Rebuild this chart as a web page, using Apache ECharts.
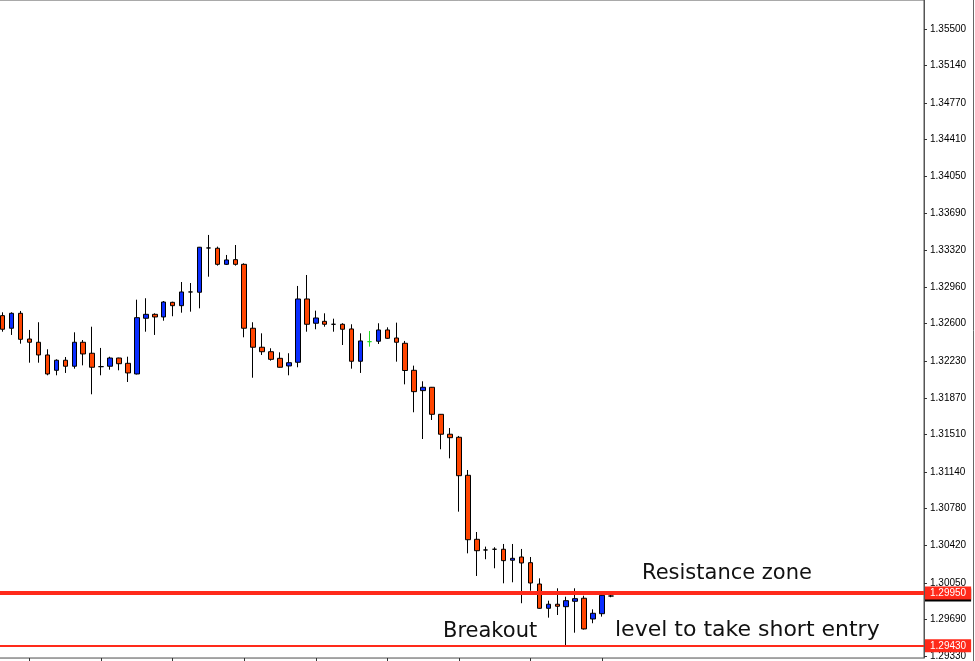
<!DOCTYPE html>
<html>
<head>
<meta charset="utf-8">
<script src="https://cdn.jsdelivr.net/npm/echarts@6/dist/echarts.min.js"></script>
<style>html,body{margin:0;padding:0;background:#fff;overflow:hidden;width:975px;height:661px;position:relative;}#c{position:absolute;left:-7px;top:0;width:982px;height:661px;}</style>
</head>
<body>
<div id="c"></div>
<script>
// ---- data ----
const opens = [1.32679,1.32555,1.32702,1.32449,1.32417,1.32292,1.32141,1.32240,1.32181,1.32417,
1.32309,1.32177,1.32181,1.32262,1.32210,1.32105,1.32653,1.32692,1.32666,1.32810,
1.32777,1.32912,1.32909,1.33345,1.33342,1.33184,1.33230,1.33184,1.32555,1.32368,
1.32324,1.32259,1.32184,1.32220,1.32843,1.32604,1.32623,1.32594,1.32594,1.32548,
1.32230,1.32423,1.32427,1.32538,1.32459,1.32407,1.32141,1.31941,1.31974,1.31708,
1.31512,1.31482,1.31108,1.30478,1.30373,1.30380,1.30380,1.30272,1.30304,1.30248,
1.30038,1.29799,1.29839,1.29815,1.29868,1.29898,1.29694,1.29746,1.29920];
const closes = [1.32545,1.32702,1.32446,1.32417,1.32292,1.32105,1.32240,1.32181,1.32417,1.32302,
1.32171,1.32177,1.32262,1.32206,1.32115,1.32659,1.32692,1.32666,1.32813,1.32777,
1.32912,1.32912,1.33352,1.33345,1.33184,1.33227,1.33184,1.32555,1.32368,1.32324,
1.32249,1.32171,1.32216,1.32843,1.32594,1.32656,1.32594,1.32594,1.32545,1.32230,
1.32430,1.32423,1.32538,1.32456,1.32417,1.32139,1.31931,1.31974,1.31708,1.31512,
1.31478,1.31104,1.30474,1.30366,1.30373,1.30380,1.30268,1.30291,1.30245,1.30048,
1.29799,1.29839,1.29819,1.29874,1.29894,1.29596,1.29750,1.29927,1.29920];
const lows = [1.32521,1.32489,1.32403,1.32216,1.32216,1.32092,1.32092,1.32115,1.32157,1.32190,
1.31905,1.32092,1.32147,1.32141,1.32026,1.32100,1.32521,1.32489,1.32629,1.32673,
1.32708,1.32718,1.32751,1.33062,1.33171,1.33177,1.33171,1.32466,1.32068,1.32292,
1.32236,1.32168,1.32092,1.32171,1.32521,1.32545,1.32570,1.32521,1.32390,1.32157,
1.32115,1.32374,1.32400,1.32449,1.32226,1.32003,1.31728,1.31465,1.31652,1.31364,
1.31275,1.30750,1.30340,1.30117,1.30282,1.30193,1.30045,1.30055,1.29849,1.29972,
1.29795,1.29707,1.29733,1.29435,1.29559,1.29590,1.29652,1.29717,1.29908];
const highs = [1.32712,1.32712,1.32725,1.32538,1.32614,1.32348,1.32249,1.32272,1.32515,1.32439,
1.32570,1.32361,1.32275,1.32265,1.32275,1.32836,1.32850,1.32702,1.32823,1.32816,
1.33010,1.33000,1.33355,1.33473,1.33358,1.33276,1.33374,1.33194,1.32614,1.32505,
1.32358,1.32318,1.32309,1.32971,1.33079,1.32728,1.32702,1.32649,1.32604,1.32594,
1.32505,1.32528,1.32604,1.32564,1.32610,1.32430,1.32187,1.32033,1.31977,1.31711,
1.31573,1.31495,1.31160,1.30550,1.30406,1.30400,1.30432,1.30432,1.30383,1.30304,
1.30094,1.29874,1.29996,1.29913,1.29996,1.29923,1.29789,1.29930,1.29940];
const greenDojiIndex = 41;
const yTickLabels = [1.35500,1.35140,1.34770,1.34410,1.34050,1.33690,1.33320,1.32960,1.32600,
1.32230,1.31870,1.31510,1.31140,1.30780,1.30420,1.30050,1.29690,1.29330];
const levels = [1.29950, 1.29430];
const annotations = ['Resistance zone', 'Breakout', 'level to take short entry'];

// ---- layout helpers ----
const padBefore = 1, padAfter = 35;
const nCat = padBefore + opens.length + padAfter;
const categories = [];
for (let i = 0; i < nCat; i++) categories.push(String(i));
const OX = 7; // container offset (page x = container x - OX)

const candles = opens.map((o, i) => {
  const item = { value: [i + padBefore, o, closes[i], lows[i], highs[i]] };
  if (i === greenDojiIndex) {
    item.itemStyle = { color: '#22dd22', color0: '#22dd22', borderColor: '#22dd22', borderColor0: '#22dd22' };
  }
  return item;
});

const chart = echarts.init(document.getElementById('c'), null, { renderer: 'canvas' });
const axisFont = { fontFamily: 'Liberation Sans', fontSize: 10 };
const annFont = 'DejaVu Sans';

chart.setOption({
  animation: false,
  backgroundColor: '#ffffff',
  grid: { left: 0.75, right: 51, top: 0, bottom: 3, show: true, borderColor: '#555555', borderWidth: 1, backgroundColor: '#ffffff' },
  xAxis: {
    type: 'category', data: categories, boundaryGap: false,
    axisLine: { show: true, lineStyle: { color: '#a0a0a0', width: 1 } },
    axisTick: { show: true, length: 3, interval: (i) => i % 8 === 4 && i <= padBefore + opens.length, lineStyle: { color: '#333333' } },
    axisLabel: { show: false },
    splitLine: { show: false }
  },
  yAxis: {
    type: 'value', position: 'right', min: 1.29310, max: 1.35785, scale: true,
    axisLine: { show: true, lineStyle: { color: '#555555', width: 1 } },
    axisTick: { show: true, length: 3, customValues: yTickLabels, lineStyle: { color: '#333333' } },
    axisLabel: Object.assign({ customValues: yTickLabels, formatter: (v) => v.toFixed(5), margin: 6, color: '#000000' }, axisFont),
    splitLine: { show: false }
  },
  series: [{
    type: 'candlestick',
    clip: false,
    barWidth: 5,
    encode: { x: 0, y: [1, 2, 3, 4] },
    itemStyle: { color: '#0a2dff', color0: '#ff4500', borderColor: '#000000', borderColor0: '#000000', borderWidth: 1 },
    data: candles,
    markLine: {
      silent: true, symbol: 'none', animation: false, precision: 5,
      label: Object.assign({
        show: true, position: 'end', distance: 1,
        formatter: (p) => Number(p.value).toFixed(5),
        color: '#ffffff', backgroundColor: '#ff2a1a', padding: [1, 5, 1, 5], lineHeight: 11
      }, axisFont),
      data: [
        { yAxis: levels[0], lineStyle: { color: '#ff2a1a', width: 4, type: 'solid' },
          label: { shadowColor: '#000000', shadowOffsetY: 2, shadowBlur: 0 } },
        { yAxis: levels[1], lineStyle: { color: '#ff2a1a', width: 2, type: 'solid' } }
      ]
    }
  }],
  graphic: [
    { type: 'text', z: 100, style: { x: 642 + OX, y: 574, text: annotations[0], font: '21px "' + annFont + '"', fill: '#111111', verticalAlign: 'middle' } },
    { type: 'text', z: 100, style: { x: 443 + OX, y: 632, text: annotations[1], font: '21px "' + annFont + '"', fill: '#111111', verticalAlign: 'middle' } },
    { type: 'text', z: 100, style: { x: 615 + OX, y: 630, text: annotations[2], font: '22px "' + annFont + '"', fill: '#111111', verticalAlign: 'middle' } },
    { type: 'line', z: 100, shape: { x1: 973.5 + OX, y1: 0, x2: 973.5 + OX, y2: 661 }, style: { stroke: '#666666', lineWidth: 1 } }
  ]
});
</script>
</body>
</html>
